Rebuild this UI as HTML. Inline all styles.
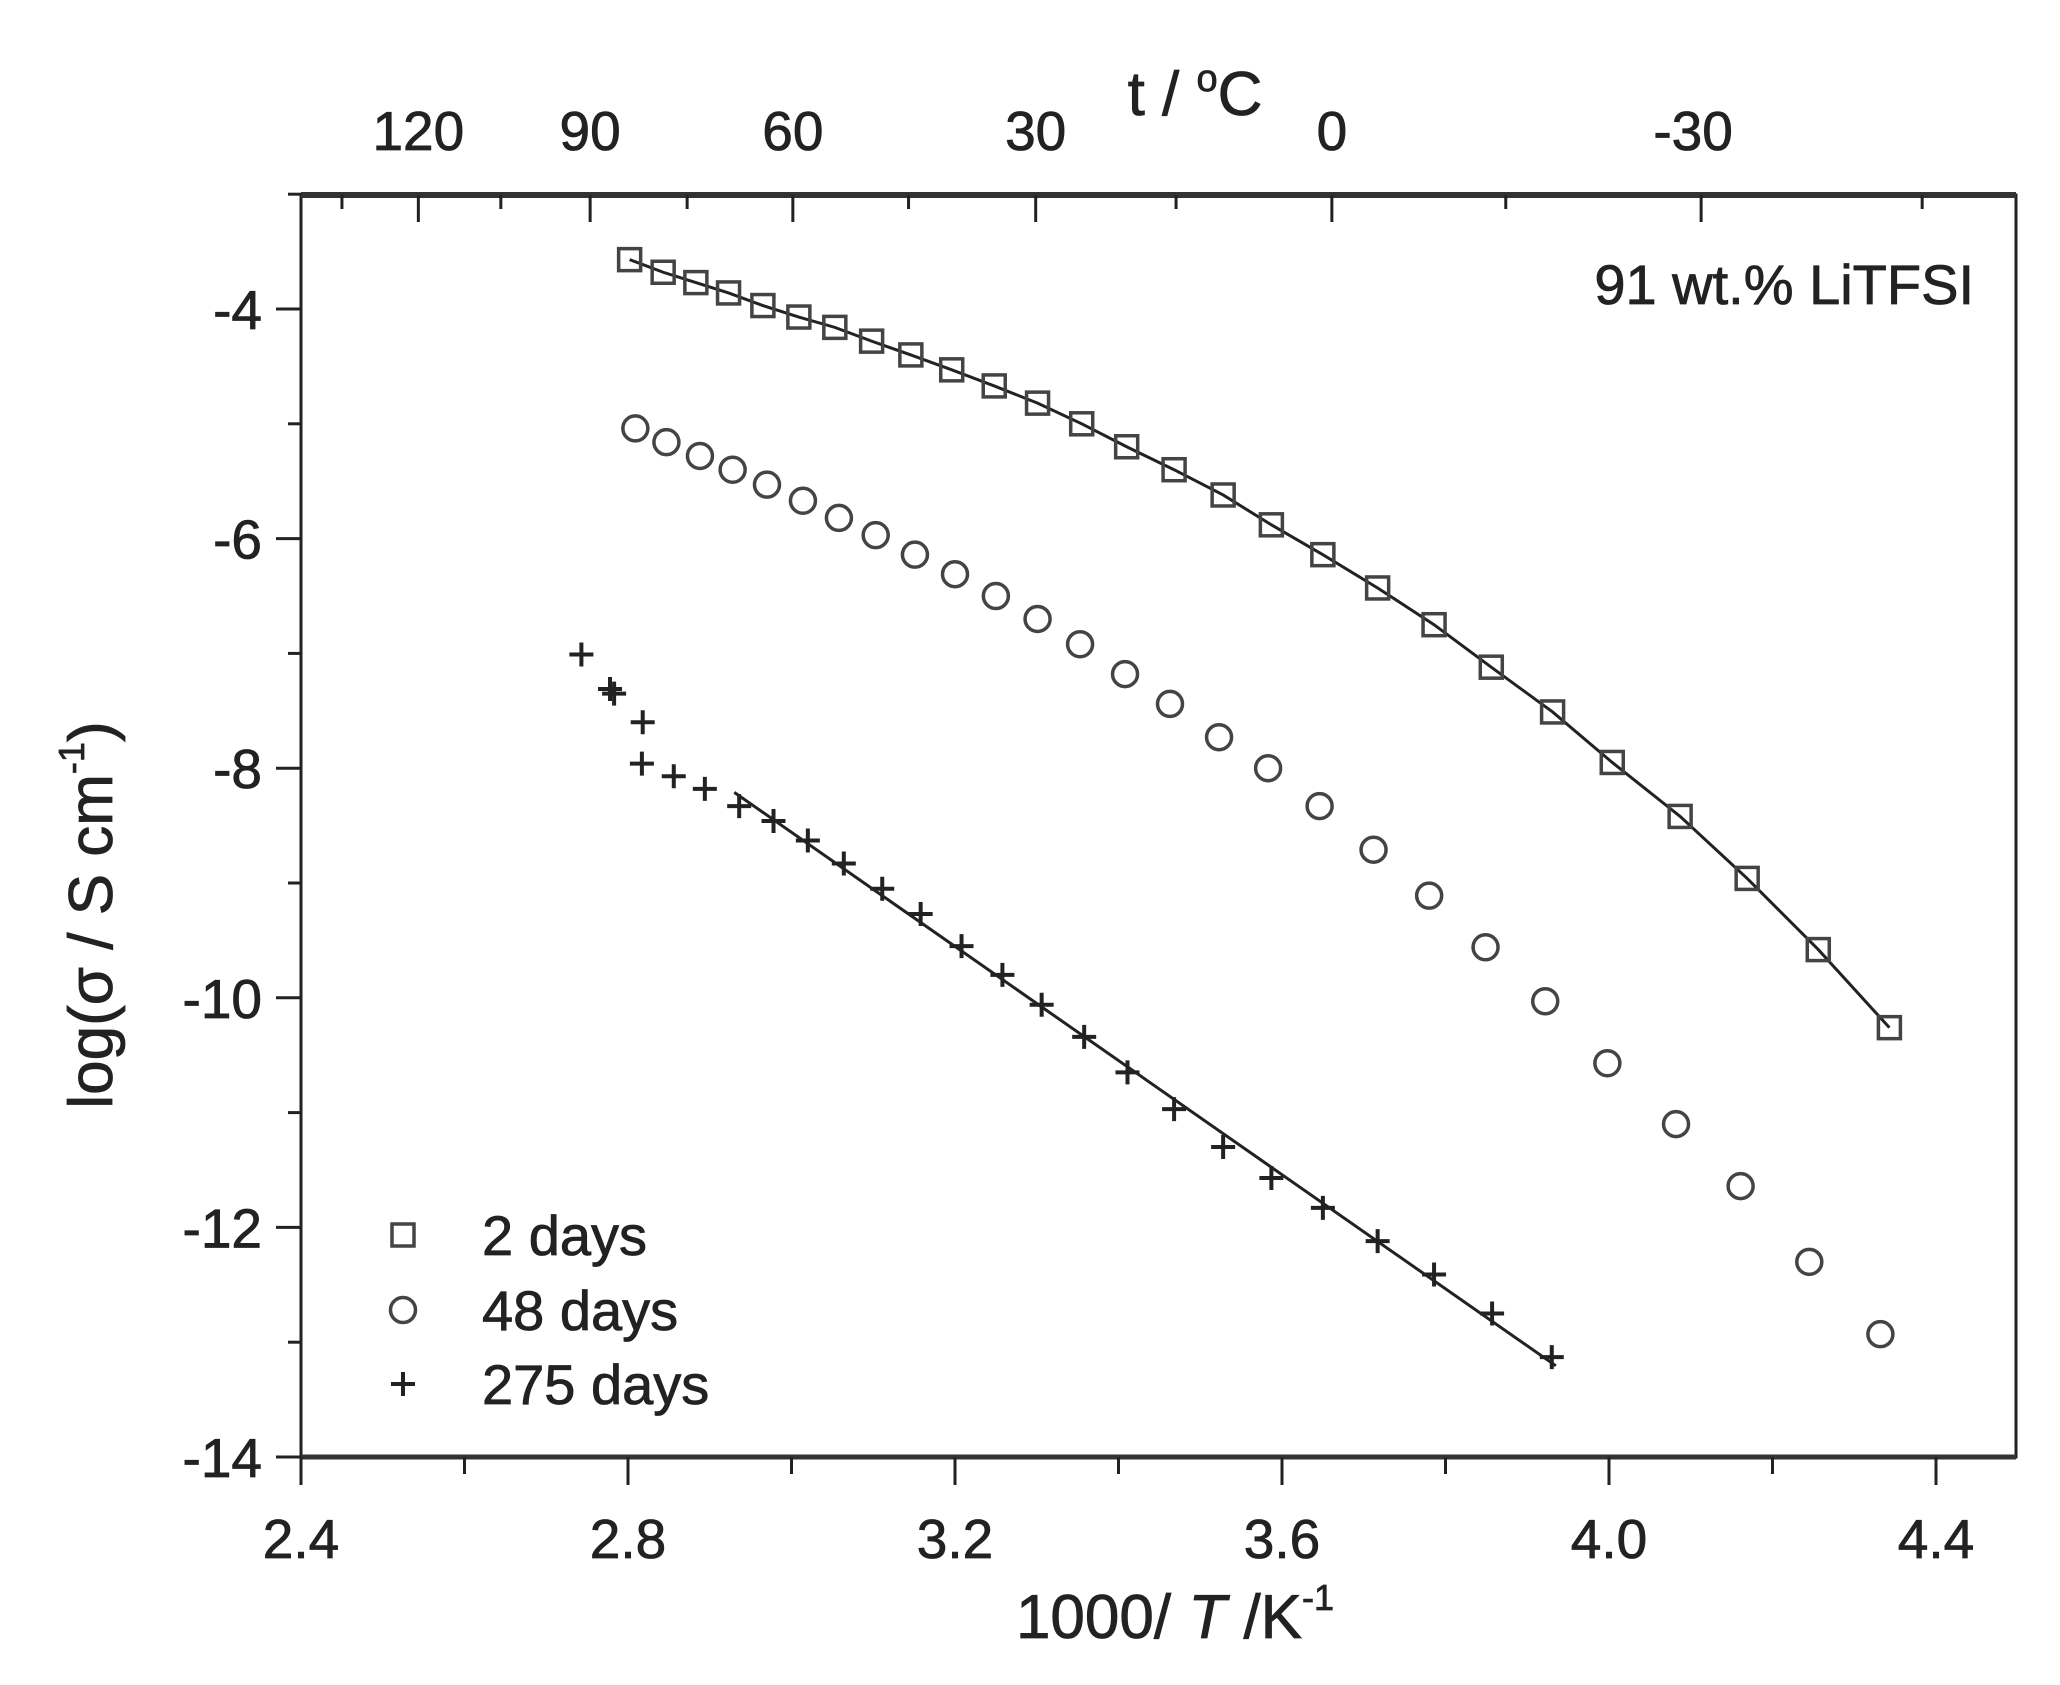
<!DOCTYPE html>
<html><head><meta charset="utf-8"><style>
html,body{margin:0;padding:0;background:#fff;width:2060px;height:1685px;overflow:hidden}
svg text{font-family:"Liberation Sans",Arial,sans-serif;fill:#222;stroke:#222;stroke-width:0.8}
</style></head><body>
<svg id="chart" width="2060" height="1685" xmlns="http://www.w3.org/2000/svg"></svg>
<script>
const sqX=[2.802,2.843,2.883,2.923,2.965,3.009,3.053,3.098,3.146,3.196,3.248,3.301,3.355,3.410,3.468,3.528,3.587,3.650,3.717,3.786,3.856,3.931,4.004,4.087,4.169,4.256,4.343];
const sqY=[-3.57,-3.68,-3.77,-3.86,-3.97,-4.07,-4.16,-4.28,-4.40,-4.53,-4.67,-4.82,-5.00,-5.20,-5.40,-5.62,-5.88,-6.14,-6.43,-6.75,-7.12,-7.51,-7.95,-8.42,-8.96,-9.58,-10.26];
const ciX=[2.809,2.847,2.888,2.928,2.970,3.014,3.058,3.103,3.151,3.200,3.250,3.301,3.353,3.408,3.463,3.523,3.583,3.646,3.712,3.780,3.849,3.922,3.998,4.082,4.161,4.245,4.332];
const ciY=[-5.04,-5.16,-5.28,-5.40,-5.53,-5.67,-5.82,-5.97,-6.14,-6.31,-6.50,-6.70,-6.92,-7.18,-7.44,-7.73,-8.00,-8.33,-8.71,-9.11,-9.56,-10.03,-10.57,-11.10,-11.64,-12.30,-12.93];
const plX=[2.743,2.778,2.783,2.818,2.817,2.856,2.894,2.936,2.978,3.020,3.064,3.111,3.158,3.208,3.258,3.306,3.358,3.411,3.468,3.528,3.587,3.650,3.717,3.786,3.857,3.930];
const plY=[-7.01,-7.31,-7.35,-7.60,-7.96,-8.07,-8.18,-8.33,-8.46,-8.63,-8.83,-9.05,-9.27,-9.55,-9.80,-10.06,-10.34,-10.65,-10.97,-11.30,-11.57,-11.83,-12.12,-12.41,-12.75,-13.13];
const plFitX=[2.93,3.935];
const xTicks=[2.4,2.8,3.2,3.6,4.0,4.4];
const xTickLabels=["2.4","2.8","3.2","3.6","4.0","4.4"];
const yTicks=[-4,-6,-8,-10,-12,-14];
const yTickLabels=["-4","-6","-8","-10","-12","-14"];
const tTicks=[120,90,60,30,0,-30];
const tTickLabels=["120","90","60","30","0","-30"];

const NS="http://www.w3.org/2000/svg";
const svg=document.getElementById('chart');
const L=301,R=2016,T=195,B=1457;
const sx=v=>301+(v-2.4)*817.5;
const sy=v=>309+(-4-v)*114.8;
const tx=t=>sx(1000/(t+273.15));
function mk(tag,attrs,parent){const e=document.createElementNS(NS,tag);for(const k in attrs)e.setAttribute(k,attrs[k]);(parent||svg).appendChild(e);return e;}
function txt(s,x,y,size,anchor,parent){const e=mk('text',{x:x,y:y,'font-size':size,'text-anchor':anchor||'middle'},parent);e.textContent=s;return e;}

const frame=mk('rect',{x:L,y:T,width:R-L,height:B-T,fill:'none',stroke:'#222','stroke-width':3});


mk('line',{x1:L,y1:T,x2:R,y2:T,stroke:'#333','stroke-width':6});
mk('line',{x1:L,y1:B,x2:R,y2:B,stroke:'#333','stroke-width':5});

const xg=mk('g',{});


for(let v=2.4;v<=4.45;v+=0.2){const maj=Math.abs(((v-2.4)/0.4)-Math.round((v-2.4)/0.4))<0.01;mk('line',{x1:sx(v),y1:B,x2:sx(v),y2:B+(maj?28:17),stroke:'#222','stroke-width':3},xg);}
xTicks.forEach((v,i)=>{const t=txt(xTickLabels[i],sx(v),1558,55,'middle',xg);});
const xt=txt('',1175,1638,62,'middle');


xt.innerHTML='1000/ <tspan font-style="italic">T</tspan> /K<tspan font-size="36" dy="-28">-1</tspan>';

const yg=mk('g',{});


for(let v=-4;v>=-14;v-=1){const maj=(v%2===0);mk('line',{x1:L-(maj?25:13),y1:sy(v),x2:L,y2:sy(v),stroke:'#222','stroke-width':3},yg);}
mk('line',{x1:L-13,y1:sy(-3),x2:L,y2:sy(-3),stroke:'#222','stroke-width':3},yg);
yTicks.forEach((v,i)=>{const t=txt(yTickLabels[i],262,sy(v)+20,55,'end',yg);});
const yt=txt('',0,0,62,'middle');
yt.setAttribute('transform','translate(112,915) rotate(-90)');


yt.innerHTML='log(σ / S cm<tspan font-size="36" dy="-28">-1</tspan><tspan dy="28">)</tspan>';

const tg=mk('g',{});


for(let t=135;t>=-45;t-=15){const x=tx(t);if(x<L||x>R)continue;const maj=(t%30===0);mk('line',{x1:x,y1:T,x2:x,y2:T+(maj?27:14),stroke:'#222','stroke-width':3},tg);}
tTicks.forEach((t,i)=>{const e=txt(tTickLabels[i],tx(t)-(t<0?8:0),150,55,'middle',tg);});
const tt=txt('',1195,115,62,'middle');


tt.innerHTML='t / <tspan font-size="38" dy="-24">o</tspan><tspan dy="24">C</tspan>';

const an=txt('91 wt.% LiTFSI',1974,304,56,'end');



const sqLine=mk('polyline',{points:sqX.map((v,i)=>sx(v)+','+sy(sqY[i])).join(' '),fill:'none',stroke:'#222','stroke-width':3});



let n=0,sxv=0,syv=0,sxx=0,sxy=0;
plX.forEach((v,i)=>{if(v>=2.9){n++;sxv+=v;syv+=plY[i];sxx+=v*v;sxy+=v*plY[i];}});
const m=(n*sxy-sxv*syv)/(n*sxx-sxv*sxv),b0=(syv-m*sxv)/n;
const plLine=mk('line',{x1:sx(plFitX[0]),y1:sy(m*plFitX[0]+b0),x2:sx(plFitX[1]),y2:sy(m*plFitX[1]+b0),stroke:'#222','stroke-width':3});



const g1=mk('g',{});


sqX.forEach((v,i)=>{const r=mk('rect',{x:sx(v)-11,y:sy(sqY[i])-11,width:22,height:22,fill:'none',stroke:'#444','stroke-width':3.5},g1);});
const g2=mk('g',{});


ciX.forEach((v,i)=>{const c=mk('circle',{cx:sx(v),cy:sy(ciY[i]),r:12.5,fill:'none',stroke:'#444','stroke-width':3.5},g2);});
const g3=mk('g',{});


plX.forEach((v,i)=>{const x=sx(v),y=sy(plY[i]);const p=mk('path',{d:`M${x-12},${y}H${x+12}M${x},${y-12}V${y+12}`,stroke:'#222','stroke-width':4},g3);});

const lg=mk('g',{});


const legY=[1235,1310,1384];
const legT=['2 days','48 days','275 days'];
mk('rect',{x:392,y:legY[0]-11,width:22,height:22,fill:'none',stroke:'#444','stroke-width':3.5},lg);
mk('circle',{cx:403,cy:legY[1],r:12.5,fill:'none',stroke:'#444','stroke-width':3.5},lg);
mk('path',{d:`M391,${legY[2]}H415M403,${legY[2]-12}V${legY[2]+12}`,stroke:'#222','stroke-width':4},lg);
legT.forEach((s,i)=>{const e=txt(s,482,legY[i]+20,56,'start',lg);});
</script>
</body></html>
